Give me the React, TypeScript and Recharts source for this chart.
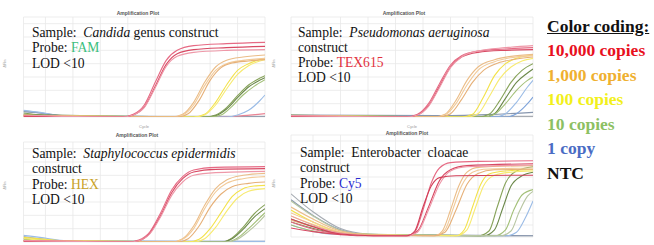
import React from 'react';
import { LineChart, Line, XAxis, YAxis, CartesianGrid } from 'recharts';

type Pt = [number, number];
type Groups = { r: Pt[][]; o: Pt[][]; y: Pt[][]; g: Pt[][]; b: Pt[][]; n: Pt[][] };

// ---------- axis ticks ----------
const xTicks = [5, 10, 15, 20, 25, 30, 35, 40, 45];
const yTicks14 = [0, 0.2, 0.4, 0.6, 0.8, 1.0, 1.2, 1.4];
const yTicks16 = [0, 0.2, 0.4, 0.6, 0.8, 1.0, 1.2, 1.4, 1.6];

// ---------- curve data: [cycle, normalized ΔRn] ----------
const famCurves: Groups = {
  r: [
    [[1, 0.02], [6, 0.01], [19, 0], [21, 0.04], [23, 0.18], [25, 0.52], [27, 0.85], [29, 1.0], [32, 1.07], [38, 1.1], [45, 1.12]],
    [[1, 0.01], [19, 0], [21, 0.03], [23, 0.15], [25, 0.46], [27, 0.79], [29, 0.95], [32, 1.01], [38, 1.04], [45, 1.06]],
    [[1, 0.03], [8, 0.01], [19, 0], [21, 0.03], [23, 0.14], [25, 0.44], [27, 0.76], [29, 0.91], [32, 0.97], [38, 1.0], [45, 1.01]],
  ],
  o: [
    [[1, 0.02], [28, 0], [30, 0.04], [32, 0.22], [34, 0.52], [36, 0.75], [38, 0.85], [41, 0.9], [45, 0.93]],
    [[1, 0.01], [28, 0], [30, 0.03], [32, 0.18], [34, 0.47], [36, 0.7], [38, 0.8], [41, 0.85], [45, 0.88]],
    [[1, 0.02], [29, 0], [31, 0.05], [33, 0.25], [35, 0.55], [37, 0.74], [39, 0.81], [42, 0.84], [45, 0.86]],
  ],
  y: [
    [[1, 0.03], [9, 0.01], [32, 0], [34, 0.04], [36, 0.22], [38, 0.48], [40, 0.7], [42, 0.8], [45, 0.88]],
    [[1, 0.02], [32, 0], [34, 0.03], [36, 0.18], [38, 0.42], [40, 0.64], [42, 0.77], [45, 0.86]],
  ],
  g: [
    [[1, 0.06], [8, 0.01], [34, 0], [36, 0.03], [38, 0.14], [40, 0.32], [42, 0.48], [44, 0.58], [45, 0.62]],
    [[1, 0.04], [34, 0], [36, 0.02], [38, 0.12], [40, 0.29], [42, 0.45], [44, 0.55], [45, 0.59]],
    [[1, 0.03], [35, 0], [37, 0.03], [39, 0.16], [41, 0.33], [43, 0.46], [45, 0.56]],
  ],
  b: [
    [[1, 0.1], [4, 0.07], [8, 0.02], [38, 0], [40, 0.03], [42, 0.1], [44, 0.24], [45, 0.33]],
  ],
  n: [
    [[1, 0.09], [5, 0.05], [10, 0.01], [45, 0.01]],
    [[1, 0.08], [4, 0.06], [9, 0.01], [45, 0.0]],
    [[1, 0.0], [37, 0], [41, 0.02], [45, 0.05]],
  ],
};

const texCurves: Groups = {
  r: [
    [[1, 0.02], [6, 0.01], [22, 0], [24, 0.04], [26, 0.2], [28, 0.5], [30, 0.78], [32, 0.92], [35, 0.99], [40, 1.02], [45, 1.04]],
    [[1, 0.01], [22, 0], [24, 0.03], [26, 0.17], [28, 0.46], [30, 0.75], [32, 0.9], [35, 0.97], [40, 1.0], [45, 1.01]],
    [[1, 0.02], [22, 0], [24, 0.03], [26, 0.16], [28, 0.44], [30, 0.74], [32, 0.9], [35, 0.99], [40, 1.04], [45, 1.07]],
  ],
  o: [
    [[1, 0.01], [27, 0], [29, 0.04], [31, 0.25], [33, 0.55], [35, 0.75], [38, 0.86], [41, 0.91], [45, 0.94]],
    [[1, 0.02], [27, 0], [29, 0.03], [31, 0.2], [33, 0.48], [35, 0.7], [38, 0.83], [41, 0.89], [45, 0.92]],
    [[1, 0.01], [28, 0], [30, 0.05], [32, 0.26], [34, 0.52], [36, 0.7], [39, 0.82], [42, 0.87], [45, 0.9]],
  ],
  y: [
    [[1, 0.02], [32, 0], [34, 0.04], [36, 0.3], [38, 0.62], [40, 0.8], [42, 0.88], [45, 0.93]],
    [[1, 0.01], [33, 0], [35, 0.05], [37, 0.3], [39, 0.58], [41, 0.75], [43, 0.84], [45, 0.88]],
  ],
  g: [
    [[1, 0.03], [35, 0], [37, 0.04], [39, 0.25], [41, 0.52], [43, 0.7], [45, 0.8]],
    [[1, 0.02], [36, 0], [38, 0.05], [40, 0.28], [42, 0.52], [44, 0.66], [45, 0.72]],
    [[1, 0.02], [36, 0], [38, 0.04], [40, 0.2], [42, 0.4], [44, 0.55], [45, 0.6]],
  ],
  b: [
    [[1, 0.02], [38, 0], [40, 0.05], [42, 0.22], [44, 0.45], [45, 0.55]],
    [[1, 0.01], [40, 0], [42, 0.05], [44, 0.2], [45, 0.3]],
  ],
  n: [
    [[1, 0.01], [45, 0.01]],
    [[1, 0.03], [28, 0.02], [38, 0.04], [45, 0.07]],
  ],
};

const hexCurves: Groups = {
  r: [
    [[1, 0.02], [20, 0], [22, 0.03], [24, 0.15], [26, 0.44], [28, 0.78], [30, 0.98], [32, 1.08], [36, 1.12], [45, 1.13]],
    [[1, 0.01], [20, 0], [22, 0.02], [24, 0.13], [26, 0.4], [28, 0.74], [30, 0.95], [32, 1.05], [36, 1.09], [45, 1.1]],
    [[1, 0.02], [20, 0], [22, 0.02], [24, 0.12], [26, 0.38], [28, 0.7], [30, 0.9], [32, 1.0], [36, 1.04], [45, 1.06]],
  ],
  o: [
    [[1, 0.02], [28, 0], [30, 0.05], [32, 0.24], [34, 0.55], [36, 0.8], [38, 0.93], [41, 1.0], [45, 1.03]],
    [[1, 0.01], [28, 0], [30, 0.04], [32, 0.2], [34, 0.5], [36, 0.75], [38, 0.88], [41, 0.95], [45, 0.98]],
    [[1, 0.02], [29, 0], [31, 0.05], [33, 0.24], [35, 0.52], [37, 0.72], [39, 0.83], [42, 0.88], [45, 0.9]],
  ],
  y: [
    [[1, 0.07], [5, 0.04], [10, 0.01], [31, 0], [33, 0.04], [35, 0.2], [37, 0.44], [39, 0.68], [41, 0.8], [43, 0.84], [45, 0.85]],
    [[1, 0.05], [6, 0.02], [32, 0], [34, 0.05], [36, 0.22], [38, 0.46], [40, 0.66], [42, 0.76], [45, 0.8]],
  ],
  g: [
    [[1, 0.05], [7, 0.01], [37, 0], [39, 0.06], [41, 0.22], [43, 0.42], [45, 0.56]],
    [[1, 0.03], [37, 0], [39, 0.05], [41, 0.19], [43, 0.37], [45, 0.5]],
    [[1, 0.02], [38, 0], [40, 0.06], [42, 0.2], [44, 0.36], [45, 0.44]],
    [[1, 0.02], [38, 0], [40, 0.04], [42, 0.16], [44, 0.31], [45, 0.4]],
  ],
  b: [
    [[1, 0.1], [4, 0.07], [9, 0.02], [45, 0.01]],
  ],
  n: [
    [[1, 0.08], [5, 0.04], [10, 0.01], [45, 0.01]],
  ],
};

const cy5Curves: Groups = {
  r: [
    [[1, 0.25], [5, 0.13], [10, 0.05], [16, 0.02], [22, 0.02], [23.5, 0.08], [25, 0.45], [26.5, 0.9], [28, 1.15], [30, 1.24], [35, 1.26], [45, 1.27]],
    [[1, 0.15], [5, 0.09], [10, 0.04], [16, 0.02], [22, 0.02], [24, 0.1], [26, 0.5], [28, 0.94], [30, 1.12], [33, 1.19], [45, 1.22]],
    [[1, 0.35], [5, 0.2], [10, 0.06], [16, 0.02], [22, 0.02], [24, 0.08], [26, 0.45], [28, 0.88], [30, 1.1], [33, 1.17], [45, 1.2]],
    [[1, 0.3], [5, 0.17], [10, 0.05], [16, 0.02], [22, 0.02], [23.5, 0.1], [25, 0.5], [26.5, 0.85], [28, 0.99], [31, 1.02], [45, 1.03]],
  ],
  o: [
    [[1, 0.5], [5, 0.3], [10, 0.1], [15, 0.04], [27, 0.02], [28.5, 0.1], [30, 0.45], [31.5, 0.85], [33, 1.08], [35, 1.16], [45, 1.19]],
    [[1, 0.4], [5, 0.25], [10, 0.08], [15, 0.03], [27, 0.02], [29, 0.12], [30.5, 0.48], [32, 0.85], [34, 1.08], [36, 1.13], [45, 1.15]],
    [[1, 0.28], [6, 0.15], [12, 0.05], [27, 0.02], [29, 0.08], [31, 0.45], [33, 0.88], [35, 1.06], [38, 1.12], [45, 1.13]],
  ],
  y: [
    [[1, 0.45], [5, 0.25], [10, 0.08], [15, 0.03], [31, 0.02], [32.5, 0.12], [34, 0.5], [35.5, 0.88], [37, 1.05], [40, 1.1], [45, 1.12]],
    [[1, 0.35], [6, 0.18], [12, 0.05], [31, 0.02], [33, 0.12], [34.5, 0.48], [36, 0.85], [38, 1.03], [41, 1.08], [45, 1.1]],
  ],
  g: [
    [[1, 0.3], [6, 0.15], [12, 0.04], [35, 0.02], [37, 0.1], [38.5, 0.5], [40, 0.9], [42, 1.1], [45, 1.17]],
    [[1, 0.25], [6, 0.12], [12, 0.04], [36, 0.02], [38, 0.12], [39.5, 0.48], [41, 0.85], [43, 1.02], [45, 1.08]],
    [[1, 0.2], [8, 0.06], [38, 0.02], [40, 0.12], [41.5, 0.45], [43, 0.7], [45, 0.79]],
    [[1, 0.6], [5, 0.35], [10, 0.11], [15, 0.04], [39, 0.02], [41, 0.1], [42.5, 0.42], [44, 0.68], [45, 0.76]],
  ],
  b: [
    [[1, 0.2], [8, 0.05], [40, 0.02], [42, 0.08], [43.5, 0.3], [45, 0.6]],
  ],
  n: [
    [[1, 0.72], [5, 0.42], [10, 0.14], [15, 0.05], [25, 0.02], [45, 0.02]],
    [[1, 0.62], [5, 0.36], [10, 0.12], [15, 0.04], [45, 0.02]],
  ],
};

// ---------- legend ----------
const legendLabels = ['10,000 copies', '1,000 copies', '100 copies', '10 copies', '1 copy', 'NTC'];

// ---------- styles ----------
const curveColors: Record<keyof Groups, string[]> = {
  r: ['#e66a84', '#d84a64', '#ee98a8', '#d23f58'],
  o: ['#ebbd88', '#f2ca98', '#e6b078'],
  y: ['#f3e24a', '#f7ea70', '#f0da40'],
  g: ['#87a35a', '#6b884a', '#a3c078', '#b8c6a2'],
  b: ['#9bbce6', '#7ea3da'],
  n: ['#a6abb2', '#8796ae', '#ea8494'],
};
const legendColors = ['#e8101e', '#efb030', '#f2f01a', '#8cc063', '#4a6cc4', '#111111'];
const drawOrder: (keyof Groups)[] = ['n', 'b', 'g', 'y', 'o', 'r'];

const fmtY = (v: number) => {
  if (v === 0) return '0.00';
  if (v < 0.99) return `${(v * 10).toFixed(2)}e+5`;
  return `${v.toFixed(2)}e+6`;
};

const serif = '"Liberation Serif", "Times New Roman", serif';
const sans = '"Liberation Sans", Arial, sans-serif';

interface PanelCfg {
  left: number; top: number; width: number; height: number;
  margin: { top: number; right: number; bottom: number; left: number };
  yMax: number; yTicks: number[]; curves: Groups;
}

const Panel = ({ cfg }: { cfg: PanelCfg }) => {
  const lines: React.ReactNode[] = [];
  drawOrder.forEach((k) => {
    cfg.curves[k].forEach((pts, i) => {
      const pal = curveColors[k];
      lines.push(
        <Line
          key={`${k}${i}`}
          data={pts.map(([c, v]) => ({ c, v }))}
          dataKey="v"
          type="monotone"
          stroke={pal[i % pal.length]}
          strokeWidth={1.1}
          dot={false}
          activeDot={false}
          isAnimationActive={false}
        />
      );
    });
  });
  return (
    <div style={{ position: 'absolute', left: cfg.left, top: cfg.top }}>
      <LineChart width={cfg.width} height={cfg.height} margin={cfg.margin}>
        <CartesianGrid stroke="#e9e9e9" strokeWidth={0.8} />
        <XAxis
          type="number" dataKey="c" domain={[1, 45]} ticks={xTicks} interval={0}
          height={0} allowDataOverflow tickSize={2} tickMargin={1}
          tick={{ fontSize: 3.5, fill: '#8a8a8a', fontFamily: sans }}
          tickLine={{ stroke: '#cfcfcf' }} axisLine={{ stroke: '#cfcfcf' }}
        />
        <YAxis
          type="number" domain={[0, cfg.yMax]} ticks={cfg.yTicks} interval={0}
          width={0} allowDataOverflow tickLine={false} tickMargin={3}
          tickFormatter={fmtY}
          tick={{ fontSize: 3.5, fill: '#8a8a8a', fontFamily: sans }}
          axisLine={{ stroke: '#cfcfcf' }}
        />
        {lines}
      </LineChart>
    </div>
  );
};

const panels: PanelCfg[] = [
  { left: 0, top: 0, width: 270, height: 130, margin: { top: 17, right: 5, bottom: 13, left: 23.5 }, yMax: 1.5, yTicks: yTicks14, curves: famCurves },
  { left: 270, top: 0, width: 270, height: 130, margin: { top: 17, right: 7, bottom: 13, left: 21 }, yMax: 1.5, yTicks: yTicks14, curves: texCurves },
  { left: 0, top: 125, width: 270, height: 120, margin: { top: 17, right: 5, bottom: 3, left: 23.5 }, yMax: 1.5, yTicks: yTicks14, curves: hexCurves },
  { left: 270, top: 125, width: 270, height: 120, margin: { top: 10, right: 7, bottom: 8, left: 21 }, yMax: 1.7, yTicks: yTicks16, curves: cy5Curves },
];

const abs = (left: number, top: number, extra: React.CSSProperties = {}): React.CSSProperties => ({
  position: 'absolute', left, top, whiteSpace: 'nowrap', ...extra,
});

const titleStyle: React.CSSProperties = { fontFamily: sans, fontSize: 5, fontWeight: 700, color: '#555', transform: 'translateX(-50%)' };
const cycleStyle: React.CSSProperties = { fontFamily: sans, fontSize: 4, color: '#999', transform: 'translateX(-50%)' };
const ylabStyle: React.CSSProperties = { fontFamily: sans, fontSize: 4, color: '#999', transform: 'rotate(-90deg)' };
const txt: React.CSSProperties = { fontFamily: serif, fontSize: 13.6, lineHeight: '15.5px', color: '#111' };

export default function App() {
  return (
    <div style={{ position: 'absolute', left: 0, top: 0, width: 654, height: 245, background: '#fff', overflow: 'hidden' }}>
      {panels.map((p, i) => <Panel key={i} cfg={p} />)}

      {/* chart titles & axis labels */}
      <div style={abs(138, 10, titleStyle)}>Amplification Plot</div>
      <div style={abs(404, 10, titleStyle)}>Amplification Plot</div>
      <div style={abs(137, 132, titleStyle)}>Amplification Plot</div>
      <div style={abs(407, 130, titleStyle)}>Amplification Plot</div>
      <div style={abs(144, 124, cycleStyle)}>Cycle</div>
      <div style={abs(412, 124, cycleStyle)}>Cycle</div>
      <div style={abs(1, 61, ylabStyle)}>ΔRn</div>
      <div style={abs(270, 61, ylabStyle)}>ΔRn</div>
      <div style={abs(1, 183, ylabStyle)}>ΔRn</div>
      <div style={abs(270, 181, ylabStyle)}>ΔRn</div>

      {/* panel annotations */}
      <div style={abs(32, 24.6, txt)}>
        <div>Sample:&nbsp; <i>Candida</i> genus construct</div>
        <div>Probe: <span style={{ color: '#3dbf80' }}>FAM</span></div>
        <div>LOD &lt;10</div>
      </div>
      <div style={abs(298, 24.6, { ...txt, lineHeight: '15.3px' })}>
        <div>Sample:&nbsp; <i>Pseudomonas aeruginosa</i></div>
        <div>construct</div>
        <div>Probe: <span style={{ color: '#e2313d' }}>TEX615</span></div>
        <div>LOD &lt;10</div>
      </div>
      <div style={abs(32, 145.6, txt)}>
        <div>Sample:&nbsp; <i>Staphylococcus epidermidis</i></div>
        <div>construct</div>
        <div>Probe: <span style={{ color: '#c9a227' }}>HEX</span></div>
        <div>LOD &lt;10</div>
      </div>
      <div style={abs(300, 144.6, txt)}>
        <div>Sample:&nbsp; Enterobacter&nbsp; cloacae</div>
        <div>construct</div>
        <div>Probe: <span style={{ color: '#2b2bd0' }}>Cy5</span></div>
        <div>LOD &lt;10</div>
      </div>

      {/* color coding legend */}
      <div style={abs(547, 13.6, { fontFamily: serif, fontSize: 17.5, fontWeight: 700, lineHeight: '24.5px' })}>
        <div style={{ color: '#111', textDecoration: 'underline' }}>Color coding:</div>
        {legendLabels.map((l, i) => (
          <div key={l} style={{ color: legendColors[i] }}>{l}</div>
        ))}
      </div>
    </div>
  );
}
